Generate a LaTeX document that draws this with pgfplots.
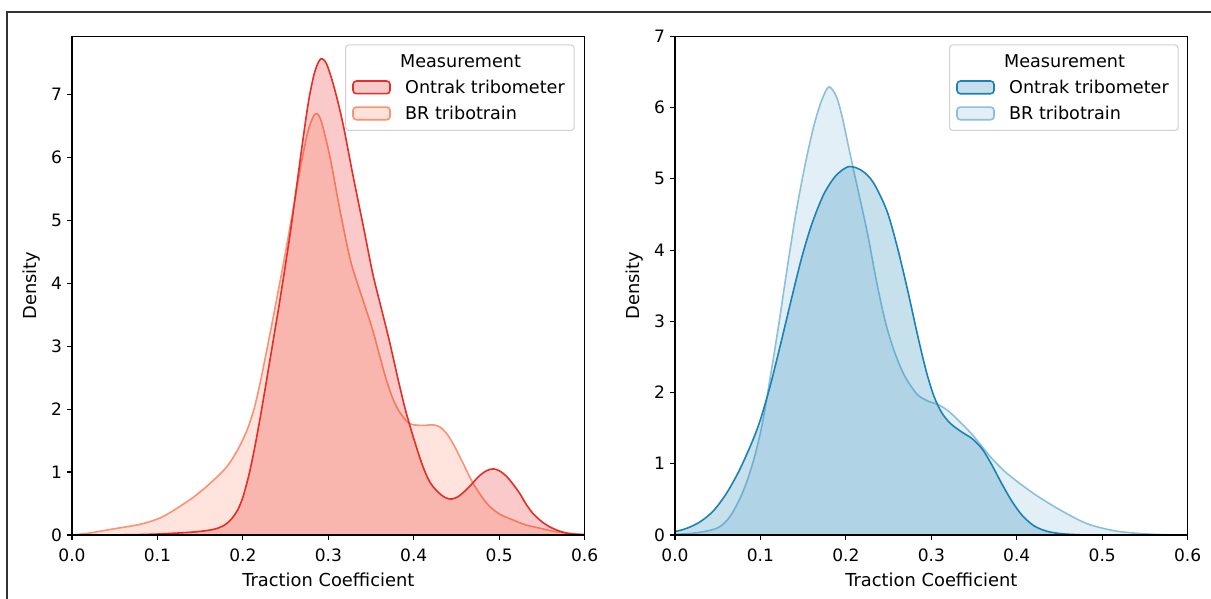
\documentclass[border=0pt]{standalone}
\usepackage{fontspec}
\setmainfont{DejaVu Sans}
\usepackage{pgfplots}
\pgfplotsset{compat=1.18}
\usepackage{pgfplotstable}

\definecolor{redOn}{RGB}{230,45,38}
\definecolor{redBR}{RGB}{252,146,114}
\definecolor{blueOn}{RGB}{27,130,181}
\definecolor{blueBR}{RGB}{140,192,218}
\definecolor{framegray}{RGB}{50,50,50}

% Kernel density estimates of the traction coefficient
\pgfplotstableread{
x y
0.000 0.000
0.060 0.003
0.100 0.015
0.140 0.045
0.160 0.075
0.171 0.11
0.180 0.17
0.187 0.26
0.194 0.40
0.200 0.60
0.207 0.95
0.214 1.40
0.221 1.92
0.228 2.48
0.235 3.05
0.242 3.62
0.249 4.22
0.256 4.85
0.263 5.55
0.270 6.25
0.277 6.90
0.284 7.35
0.291 7.56
0.298 7.48
0.307 7.10
0.317 6.54
0.329 5.70
0.341 4.90
0.352 4.15
0.362 3.60
0.372 3.05
0.382 2.45
0.390 2.00
0.398 1.62
0.409 1.15
0.418 0.86
0.427 0.70
0.436 0.60
0.444 0.57
0.452 0.61
0.460 0.70
0.468 0.81
0.476 0.93
0.485 1.02
0.493 1.05
0.500 1.02
0.508 0.94
0.516 0.81
0.524 0.66
0.531 0.50
0.539 0.35
0.549 0.22
0.559 0.13
0.569 0.07
0.579 0.03
0.590 0.01
0.600 0.00
}\leftOntrak

\pgfplotstableread{
x y
0.000 0.000
0.020 0.03
0.050 0.10
0.080 0.17
0.103 0.27
0.120 0.40
0.142 0.60
0.160 0.80
0.181 1.08
0.195 1.38
0.205 1.67
0.213 2.00
0.220 2.40
0.227 2.87
0.234 3.35
0.241 3.85
0.248 4.35
0.255 4.88
0.262 5.42
0.269 5.95
0.276 6.40
0.284 6.68
0.291 6.60
0.302 6.00
0.313 5.20
0.325 4.41
0.334 4.00
0.343 3.63
0.352 3.25
0.360 2.85
0.368 2.46
0.376 2.15
0.384 1.94
0.395 1.77
0.410 1.74
0.422 1.75
0.430 1.72
0.438 1.62
0.446 1.45
0.454 1.24
0.462 1.02
0.469 0.83
0.479 0.62
0.489 0.45
0.502 0.32
0.516 0.24
0.531 0.16
0.547 0.11
0.563 0.06
0.579 0.03
0.600 0.01
}\leftBR

\pgfplotstableread{
x y
-0.030 0.01
0.000 0.05
0.015 0.10
0.030 0.19
0.045 0.34
0.060 0.58
0.075 0.90
0.090 1.30
0.100 1.62
0.112 2.12
0.124 2.70
0.136 3.30
0.148 3.88
0.160 4.36
0.174 4.78
0.188 5.04
0.203 5.17
0.218 5.12
0.232 4.95
0.248 4.55
0.260 4.05
0.272 3.45
0.284 2.80
0.294 2.30
0.303 1.95
0.312 1.72
0.322 1.57
0.335 1.45
0.348 1.35
0.360 1.20
0.371 0.98
0.382 0.73
0.394 0.48
0.406 0.28
0.420 0.13
0.436 0.05
0.455 0.015
0.480 0.00
}\rightOntrak

\pgfplotstableread{
x y
-0.030 0.00
0.000 0.01
0.025 0.03
0.050 0.10
0.065 0.27
0.080 0.62
0.092 1.05
0.102 1.55
0.112 2.25
0.122 3.00
0.132 3.80
0.142 4.55
0.152 5.18
0.162 5.72
0.171 6.08
0.180 6.29
0.189 6.15
0.196 5.85
0.204 5.40
0.214 4.85
0.225 4.25
0.236 3.55
0.246 3.00
0.256 2.60
0.268 2.25
0.283 1.98
0.296 1.88
0.308 1.83
0.320 1.74
0.335 1.57
0.350 1.38
0.369 1.10
0.389 0.86
0.420 0.58
0.451 0.35
0.482 0.16
0.514 0.06
0.545 0.02
0.580 0.00
}\rightBR

\pgfplotsset{
  kdepanel/.style={
    scale only axis,
    width=384.5pt, height=374pt,
    xmin=0, xmax=0.6, ymin=0,
    xtick={0,0.1,0.2,0.3,0.4,0.5,0.6},
    xticklabels={0.0,0.1,0.2,0.3,0.4,0.5,0.6},
    ytick={0,1,2,3,4,5,6,7},
    /pgf/number format/assume math mode=true,
    tick label style={font=\fontsize{12.8}{15}\selectfont, inner sep=0pt},
    xticklabel style={anchor=base, yshift=-16.5pt},
    yticklabel style={anchor=east, xshift=-3.5pt},
    label style={font=\fontsize{13.4}{16}\selectfont},
    xlabel={Traction Coefficient},
    ylabel={Density},
    xlabel style={at={([yshift=-38.75pt]axis description cs:0.5,0)}, anchor=base},
    ylabel style={at={([xshift=-30pt]axis description cs:0,0.5)}, anchor=center, rotate=0},
    axis line style={line width=0.8pt, black},
    tick style={line width=0.8pt, black},
    tick align=outside, major tick length=3.75pt,
    xtick pos=bottom, ytick pos=left,
    axis on top,
    legend cell align=left,
    legend image code/.code={\draw[##1, line width=1.2pt] (0pt,-4.75pt) rectangle (27.75pt,4.75pt);},
    legend style={
      anchor=north east,
      draw=black!18, line width=0.8pt, rounded corners=2.5pt,
      fill=white, fill opacity=0.8, text opacity=1,
      font=\fontsize{13.2}{15.5}\selectfont,
      inner xsep=5pt, inner ysep=5pt, row sep=4pt,
      /tikz/every odd column/.append style={column sep=8.75pt},
    },
  },
  kde/.style={smooth, line width=1.2pt, fill opacity=0.25},
}

\begin{document}
\begin{tikzpicture}
\useasboundingbox (0,0) rectangle (908.25pt,449.25pt);
\draw[framegray, line width=1.1pt] (5.25pt,0pt) -- (5.25pt,440.25pt) -- (908.25pt,440.25pt);

% left panel: red palette
\begin{axis}[kdepanel, at={(54pt,48pt)}, anchor=south west, ymax=7.92,
  legend style={at={(0.9805,0.984)}}]
\addlegendimage{empty legend}
\addlegendentry{\hspace*{-3.75pt}Measurement}
\addlegendimage{kde, draw=redOn, fill=redOn}
\addlegendentry{Ontrak tribometer}
\addlegendimage{kde, draw=redBR, fill=redBR}
\addlegendentry{BR tribotrain}
\addplot[kde, draw=redBR, fill=redBR, forget plot] table[x=x, y=y] {\leftBR} \closedcycle;
\addplot[kde, draw=redOn, fill=redOn, forget plot] table[x=x, y=y] {\leftOntrak} \closedcycle;
\end{axis}

% right panel: blue palette
\begin{axis}[kdepanel, at={(506.25pt,48pt)}, anchor=south west, ymax=7,
  legend style={at={(0.9824,0.984)}}]
\addlegendimage{empty legend}
\addlegendentry{\hspace*{-3.75pt}Measurement}
\addlegendimage{kde, draw=blueOn, fill=blueOn}
\addlegendentry{Ontrak tribometer}
\addlegendimage{kde, draw=blueBR, fill=blueBR}
\addlegendentry{BR tribotrain}
\addplot[kde, draw=blueBR, fill=blueBR, forget plot] table[x=x, y=y] {\rightBR} \closedcycle;
\addplot[kde, draw=blueOn, fill=blueOn, forget plot] table[x=x, y=y] {\rightOntrak} \closedcycle;
\end{axis}
\end{tikzpicture}
\end{document}
